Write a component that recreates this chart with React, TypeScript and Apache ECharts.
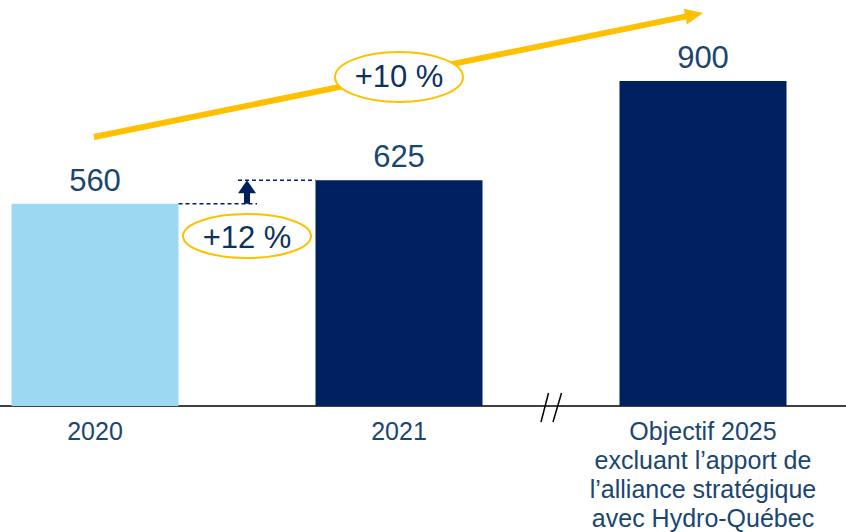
import React, { useEffect, useRef } from "react";
import * as echarts from "echarts";

const categories = [
  "2020",
  "2021",
  "Objectif 2025\nexcluant l’apport de\nl’alliance stratégique\navec Hydro-Québec",
];
const values = [560, 625, 900];
const barColors = ["#9AD9F1", "#002060", "#002060"];
const growthLabels = ["+12 %", "+10 %"];

const FONT = "'Liberation Sans', Arial, sans-serif";
const TEXT = "#1B4670";
const NAVY = "#002060";
const GOLD = "#FFC000";

export default function App() {
  const ref = useRef<HTMLDivElement>(null);
  useEffect(() => {
    document.body.style.margin = "0";
    const chart = echarts.init(ref.current!, null, { renderer: "svg" });
    const idx = categories.map((_, i) => i);
    chart.setOption({
      animation: false,
      grid: { left: 0, right: 0, top: 44.8, bottom: 125 },
      xAxis: {
        type: "value",
        min: -95 / 304,
        max: (846 - 95) / 304,
        splitLine: { show: false },
        axisLine: { show: true, onZero: false, lineStyle: { color: "#000", width: 1.5 } },
        axisTick: { show: false },
        axisLabel: {
          customValues: idx,
          formatter: (v: number) => categories[Math.round(v)] ?? "",
          color: TEXT,
          fontFamily: FONT,
          fontSize: 25,
          lineHeight: 29,
          margin: 10,
          showMinLabel: true,
          showMaxLabel: true,
        },
      },
      yAxis: { type: "value", min: 0, max: 1000, show: false },
      series: [
        {
          type: "bar",
          barWidth: 167,
          data: values.map((v, i) => ({ value: [i, v], itemStyle: { color: barColors[i] } })),
          label: {
            show: true,
            position: "top",
            distance: 8,
            color: TEXT,
            fontFamily: FONT,
            fontSize: 31,
            lineHeight: 31,
            formatter: (p: any) => String(p.value[1]),
          },
        },
      ],
    });

    const xc0 = chart.convertToPixel({ xAxisIndex: 0 }, 0) as number;
    const xc1 = chart.convertToPixel({ xAxisIndex: 0 }, 1) as number;
    const y0 = chart.convertToPixel({ yAxisIndex: 0 }, values[0]) as number;
    const y1 = chart.convertToPixel({ yAxisIndex: 0 }, values[1]) as number;
    const half = 83.5;
    const ax = 247;

    const sx = 94, sy = 137, tx = 703, ty = 13;
    const len = Math.hypot(tx - sx, ty - sy);
    const dx = (tx - sx) / len, dy = (ty - sy) / len;
    const bx = tx - 18 * dx, by = ty - 18 * dy;
    const nx = -dy, ny = dx;

    chart.setOption({
      graphic: [
        {
          type: "line",
          z: 10,
          shape: { x1: xc0 + half, y1: y0, x2: 257, y2: y0 },
          style: { stroke: NAVY, lineWidth: 1.3, lineDash: [4, 3] },
        },
        {
          type: "line",
          z: 10,
          shape: { x1: 238, y1: y1, x2: xc1 - half, y2: y1 },
          style: { stroke: NAVY, lineWidth: 1.3, lineDash: [4, 3] },
        },
        {
          type: "rect",
          z: 10,
          shape: { x: ax - 3, y: y1 + 12, width: 6, height: y0 - y1 - 12 },
          style: { fill: NAVY },
        },
        {
          type: "polygon",
          z: 10,
          shape: { points: [[ax - 9, y1 + 13], [ax + 9, y1 + 13], [ax, y1]] },
          style: { fill: NAVY },
        },
        {
          type: "ellipse",
          z: 11,
          shape: { cx: 247, cy: 236, rx: 64, ry: 22 },
          style: { fill: "#fff", stroke: GOLD, lineWidth: 2 },
        },
        {
          type: "text",
          z: 12,
          x: 247,
          y: 237,
          style: {
            text: growthLabels[0],
            fill: "#0D325F",
            font: `31px ${FONT}`,
            align: "center",
            verticalAlign: "middle",
          },
        },
        {
          type: "line",
          z: 10,
          shape: { x1: sx, y1: sy, x2: bx + dx, y2: by + dy },
          style: { stroke: GOLD, lineWidth: 6 },
        },
        {
          type: "polygon",
          z: 10,
          shape: {
            points: [
              [bx + 8 * nx, by + 8 * ny],
              [bx - 8 * nx, by - 8 * ny],
              [tx, ty],
            ],
          },
          style: { fill: GOLD },
        },
        {
          type: "ellipse",
          z: 11,
          shape: { cx: 399, cy: 77, rx: 64, ry: 25 },
          style: { fill: "#fff", stroke: GOLD, lineWidth: 2 },
        },
        {
          type: "text",
          z: 12,
          x: 399,
          y: 76,
          style: {
            text: growthLabels[1],
            fill: "#0D325F",
            font: `31px ${FONT}`,
            align: "center",
            verticalAlign: "middle",
          },
        },
        {
          type: "line",
          z: 10,
          shape: { x1: 541, y1: 422, x2: 548.5, y2: 393 },
          style: { stroke: "#000", lineWidth: 1.5 },
        },
        {
          type: "line",
          z: 10,
          shape: { x1: 553, y1: 422, x2: 561.5, y2: 393 },
          style: { stroke: "#000", lineWidth: 1.5 },
        },
      ],
    });

    return () => chart.dispose();
  }, []);
  return <div ref={ref} style={{ width: 846, height: 532 }} />;
}
